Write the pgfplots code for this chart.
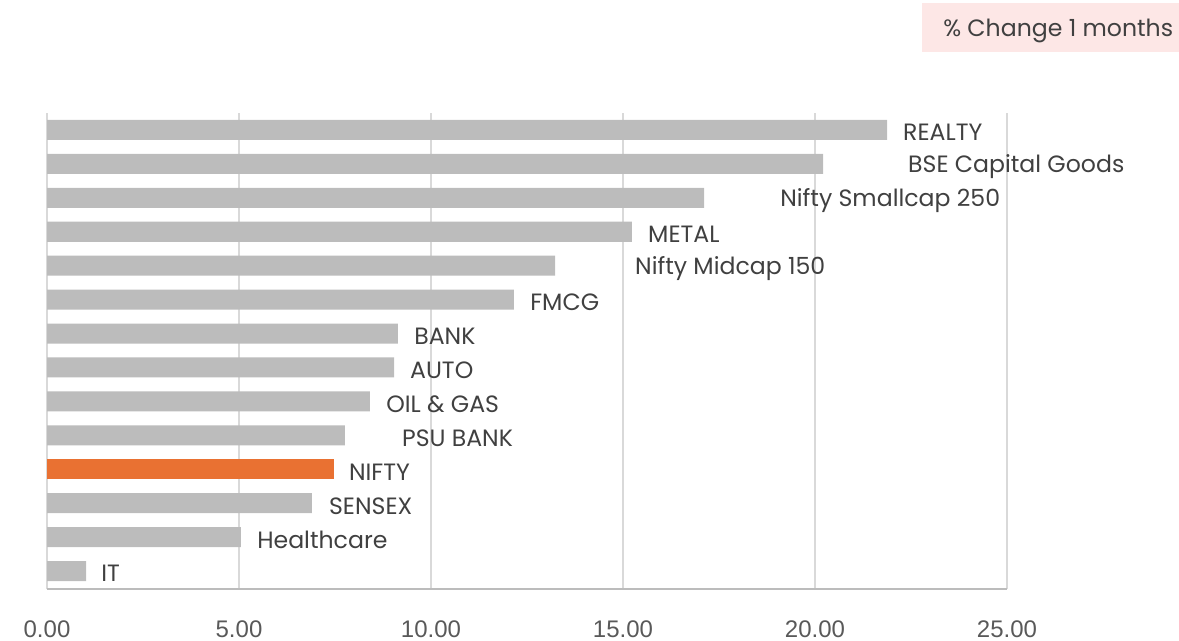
\documentclass[border=0pt]{standalone}
\usepackage{fontspec}
\setmainfont{Poppins}
\newfontfamily\arial{Liberation Sans}
\usepackage{pgfplots}
\pgfplotsset{compat=1.18}

\definecolor{bargray}{HTML}{BCBCBC}
\definecolor{barorange}{HTML}{E97132}
\definecolor{gridgray}{HTML}{D9D9D9}
\definecolor{txt}{HTML}{404040}
\definecolor{ticktxt}{HTML}{595959}
\definecolor{legbg}{HTML}{FDE7E6}

\begin{document}
\begin{tikzpicture}
\useasboundingbox (0,0) rectangle (884.25pt,480pt);
\begin{axis}[
    at={(35.25pt,38.25pt)}, anchor=south west,
    scale only axis, width=720pt, height=357pt,
    xbar, bar width=0.59, bar shift=0pt,
    xmin=0, xmax=25, ymin=-0.53, ymax=13.5,
    xtick={0,5,10,15,20,25},
    ytick=\empty,
    xmajorgrids, major grid style={gridgray, line width=1.1pt},
    axis x line*=bottom, axis y line=none,
    x axis line style={draw=bargray, line width=1.1pt, -},
    major tick length=0pt,
    xticklabel style={anchor=center, yshift=-30pt, font=\arial\fontsize{18}{20}\selectfont, text=ticktxt},
    /pgf/number format/.cd, fixed, fixed zerofill, precision=2, assume math mode=true,
    /pgfplots/.cd,
    clip=false,
]
\addplot[fill=bargray, draw=none] coordinates {
    (1.02,0) (5.05,1) (6.90,2) (7.76,4) (8.41,5) (9.04,6) (9.14,7)
    (12.16,8) (13.23,9) (15.23,10) (17.11,11) (20.21,12) (21.88,13)
};
\addplot[fill=barorange, draw=none] coordinates {(7.47,3)};

\begin{scope}[every node/.style={anchor=west, inner sep=0pt, text=txt, font=\fontsize{17.7}{20}\selectfont, yshift=-2pt}]
\node at (axis cs:22.29,13) {REALTY};
\node at (axis cs:22.42,12) {BSE Capital Goods};
\node at (axis cs:19.09,11) {Nifty Smallcap 250};
\node at (axis cs:15.65,10) {METAL};
\node at (axis cs:15.31,9) {Nifty Midcap 150};
\node at (axis cs:12.58,8) {FMCG};
\node at (axis cs:9.56,7) {BANK};
\node at (axis cs:9.45,6) {AUTO};
\node at (axis cs:8.83,5) {OIL \& GAS};
\node at (axis cs:9.24,4) {PSU BANK};
\node at (axis cs:7.86,3) {NIFTY};
\node at (axis cs:7.34,2) {SENSEX};
\node at (axis cs:5.47,1) {Healthcare};
\node at (axis cs:1.41,0) {IT};
\end{scope}
\end{axis}
\fill[legbg] (691.5pt,441pt) rectangle (884.25pt,477.75pt);
\node[anchor=west, inner sep=0pt, text=txt, font=\fontsize{17.7}{20}\selectfont] at (707.25pt,456.6pt) {\% Change 1 months};
\end{tikzpicture}
\end{document}
